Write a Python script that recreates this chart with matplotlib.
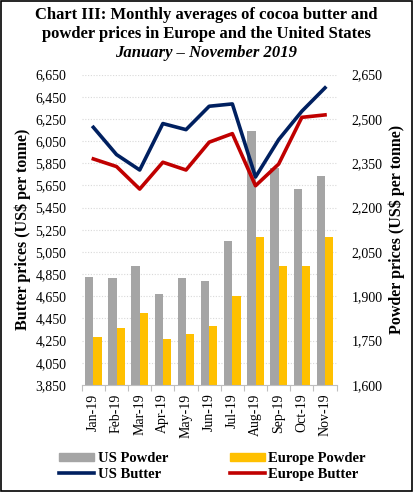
import matplotlib
matplotlib.use("Agg")
import matplotlib.pyplot as plt
from matplotlib.patches import Patch, Rectangle
from matplotlib.lines import Line2D
from matplotlib.ticker import FuncFormatter
import numpy as np

plt.rcParams['font.family'] = ['Liberation Serif', 'DejaVu Serif']

months = ['Jan-19', 'Feb-19', 'Mar-19', 'Apr-19', 'May-19', 'Jun-19',
          'Jul-19', 'Aug-19', 'Sep-19', 'Oct-19', 'Nov-19']

# powder prices (right axis)
us_powder = [1965, 1962, 2003, 1907, 1961, 1953, 2087, 2460, 2335, 2263, 2308]
eu_powder = [1764, 1793, 1843, 1756, 1772, 1800, 1901, 2102, 2003, 2003, 2100]

# butter prices (left axis)
us_butter = [6174, 5928, 5789, 6208, 6153, 6364, 6385, 5726, 6063, 6319, 6530]
eu_butter = [5889, 5820, 5617, 5859, 5789, 6040, 6117, 5647, 5843, 6264, 6286]

c_gray = '#A5A5A5'
c_yellow = '#FFC000'
c_navy = '#002060'
c_red = '#C00000'

fig = plt.figure(figsize=(4.13, 4.92), dpi=100, facecolor='white')
ax = fig.add_axes([0.198, 0.2175, 0.617, 0.631])
ax2 = ax.twinx()

x = np.arange(len(months))
w = 0.355

# bars on the right (powder) axis
ax2.bar(x - w / 2, us_powder, width=w, color=c_gray, zorder=2)
ax2.bar(x + w / 2, eu_powder, width=w, color=c_yellow, zorder=2)
ax2.set_ylim(1600, 2650)
ax2.set_yticks(np.arange(1600, 2651, 150))

ax.set_ylim(3850, 6650)
ax.set_yticks(np.arange(3850, 6651, 200))

# lines on the left (butter) axis, kept above the bars
ax.set_zorder(ax2.get_zorder() + 1)
ax.patch.set_visible(False)
ax.plot(x, us_butter, color=c_navy, linewidth=2.6, zorder=5)
ax.plot(x, eu_butter, color=c_red, linewidth=2.6, zorder=5)

# dotted grid at the butter ticks, drawn under the bars
for yv in np.arange(3850, 6651, 200):
    ax2.axhline(1600 + (yv - 3850) * 1050 / 2800, color='#D9D9D9',
                linestyle=(0, (1, 1.5)), linewidth=0.8, zorder=1)

ax.set_xlim(-0.5, len(months) - 0.5)
ax.set_xticks(x)
ax.set_xticklabels(months, rotation=90, fontsize=10)
ax.set_xticks(np.arange(-0.5, len(months), 1), minor=True)
ax.tick_params(axis='x', which='major', length=0, pad=6)
ax.tick_params(axis='x', which='minor', length=4, color='#BFBFBF', width=0.8)

fmt = FuncFormatter(lambda v, p: f'{int(v):,}')
ax.yaxis.set_major_formatter(fmt)
ax2.yaxis.set_major_formatter(fmt)
ax.tick_params(axis='y', length=0, pad=11, labelsize=10)
ax2.tick_params(axis='y', length=0, pad=11, labelsize=10)

for a in (ax, ax2):
    for s in ['top', 'left', 'right']:
        a.spines[s].set_visible(False)
    a.spines['bottom'].set_color('#BFBFBF')
ax2.spines['bottom'].set_visible(False)

ax.set_ylabel('Butter prices (US$ per tonne)', fontsize=11.5, fontweight='bold', labelpad=3)
ax2.set_ylabel('Powder prices (US$ per tonne)', fontsize=11.5, fontweight='bold', labelpad=4)

fig.text(0.5, 0.970, 'Chart III: Monthly averages of cocoa butter and',
         ha='center', va='center', fontsize=12, fontweight='bold')
fig.text(0.5, 0.930, 'powder prices in Europe and the United States',
         ha='center', va='center', fontsize=12, fontweight='bold')
fig.text(0.5, 0.892, 'January \u2013 November 2019',
         ha='center', va='center', fontsize=12, fontweight='bold', style='italic')

handles = [Patch(color=c_gray), Line2D([], [], color=c_navy, linewidth=2.6),
           Patch(color=c_yellow), Line2D([], [], color=c_red, linewidth=2.6)]
labels = ['US Powder', 'US Butter', 'Europe Powder', 'Europe Butter']
fig.legend(handles, labels, ncol=2, loc='center', bbox_to_anchor=(0.515, 0.052),
           frameon=False, prop={'weight': 'bold', 'size': 10.5},
           handlelength=2.4, handleheight=0.5, handletextpad=0.25,
           columnspacing=4.2, labelspacing=0.15)

fig.add_artist(Rectangle((0.002, 0.003), 0.995, 0.994, transform=fig.transFigure,
                         fill=False, edgecolor='black', linewidth=1.2))

fig.savefig('out.png', dpi=100)
